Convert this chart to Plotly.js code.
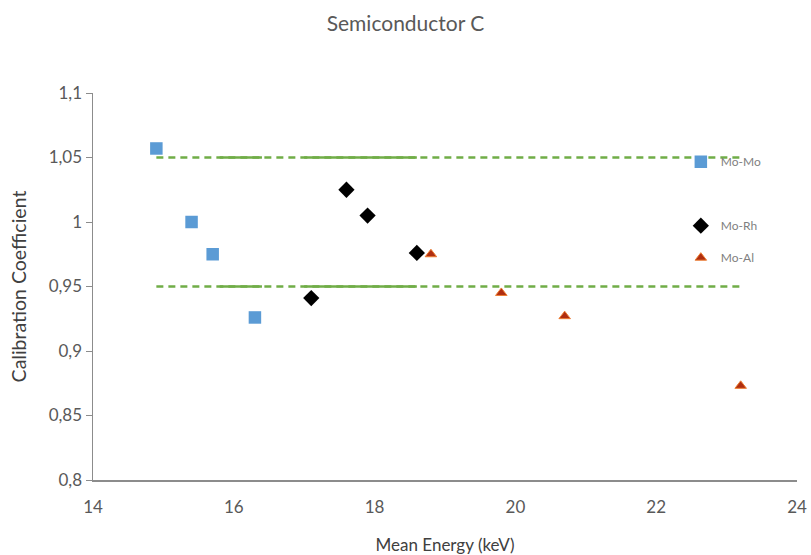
<!DOCTYPE html>
<html><head><meta charset="utf-8">
<script src="https://cdn.plot.ly/plotly-3.0.1.min.js"></script>
<style>html,body{margin:0;padding:0;background:#fff}</style>
</head><body><div id="chart" style="width:811px;height:555px"></div>
<script>
const moMoX = [14.9, 15.4, 15.7, 16.3];
const moMoY = [1.057, 1.0, 0.975, 0.926];
const moRhX = [17.1, 17.6, 17.9, 18.6];
const moRhY = [0.941, 1.025, 1.005, 0.976];
const moAlX = [18.8, 19.8, 20.7, 23.2];
const moAlY = [0.975, 0.945, 0.927, 0.873];
const limitX = [14.9, 23.2];
const upperLimit = [1.05, 1.05];
const lowerLimit = [0.95, 0.95];
const solidSeg1X = [15.8, 16.4];
const solidSeg2X = [17.0, 18.6];

const green = '#70AD47';
const traces = [];
function limitTraces(yv){
  traces.push({x: limitX, y: yv, mode:'lines', line:{color:green, width:2.5, dash:'7px,5px'}, showlegend:false, hoverinfo:'skip'});
  traces.push({x: solidSeg1X, y: yv, mode:'lines', line:{color:green, width:2.5}, showlegend:false, hoverinfo:'skip'});
  traces.push({x: solidSeg2X, y: yv, mode:'lines', line:{color:green, width:2.5}, showlegend:false, hoverinfo:'skip'});
}
limitTraces(upperLimit);
limitTraces(lowerLimit);
traces.push({x: moMoX, y: moMoY, name:'Mo-Mo', legendgroup:'a', mode:'markers', marker:{symbol:'square', size:12.5, color:'#5B9BD5'}});
traces.push({x: [null], y: [null], name:' ', legendgroup:'b', mode:'markers', marker:{size:1, color:'rgba(0,0,0,0)'}});
traces.push({x: moRhX, y: moRhY, name:'Mo-Rh', legendgroup:'c', mode:'markers', marker:{symbol:'diamond', size:12.5, color:'#000000'}});
traces.push({x: moAlX, y: moAlY, name:'Mo-Al', legendgroup:'d', mode:'markers', marker:{symbol:'triangle-up', size:10, color:'#B02E10', line:{color:'#ED7D31', width:1}}});

const layout = {
  width:811, height:555,
  margin:{l:93, r:14, t:93, b:75},
  paper_bgcolor:'#fff', plot_bgcolor:'#fff',
  separators:',.',
  font:{family:'Lato, "Open Sans", sans-serif', size:17, color:'#595959'},
  title:{text:'Semiconductor C', x:0.5, xanchor:'center', y:0.957, yanchor:'middle', font:{size:21, color:'#595959'}},
  xaxis:{range:[14,24], dtick:2, tick0:14, showgrid:false, zeroline:false, showline:true, linecolor:'#8c8c8c', linewidth:1.5,
    ticks:'', ticklabelstandoff:11, tickfont:{size:17, color:'#595959'},
    title:{text:'Mean Energy (keV)', standoff:24, font:{size:17, color:'#404040'}}},
  yaxis:{range:[0.8,1.1], dtick:0.05, tick0:0.8, showgrid:false, zeroline:false, showline:true, linecolor:'#8c8c8c', linewidth:1.5,
    ticks:'outside', ticklen:6, tickcolor:'#8c8c8c', tickfont:{size:17, color:'#595959'},
    title:{text:'Calibration Coefficient', standoff:17, font:{size:19.5, color:'#404040'}}},
  legend:{x:0.835, y:0.86, xanchor:'left', yanchor:'top', bgcolor:'rgba(0,0,0,0)', font:{size:12, color:'#7f7f7f'}, tracegroupgap:13, traceorder:'grouped', itemwidth:30},
  showlegend:true
};
Plotly.newPlot('chart', traces, layout, {displayModeBar:false, staticPlot:true});
</script></body></html>
